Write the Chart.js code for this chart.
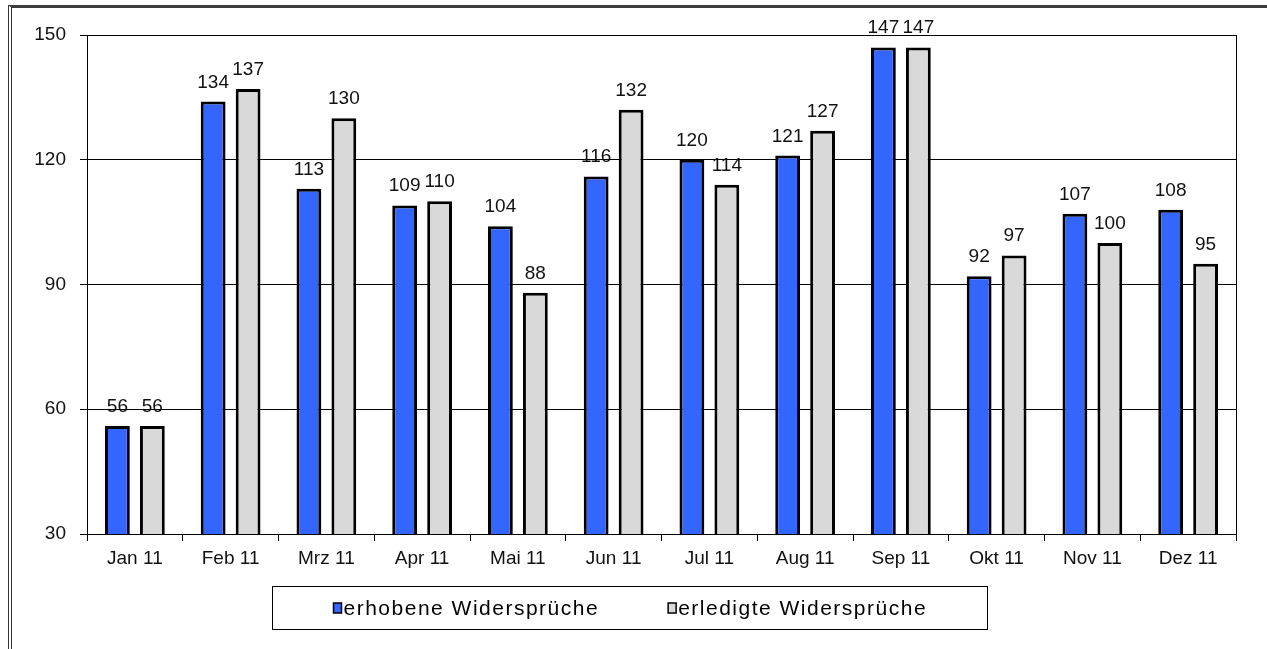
<!DOCTYPE html>
<html lang="de">
<head>
<meta charset="UTF-8">
<title>Widersprüche 2011</title>
<script src="https://cdn.jsdelivr.net/npm/chart.js"></script>
<style>
  html, body { margin: 0; padding: 0; background: #fff; }
  body { width: 1267px; height: 649px; position: relative; overflow: hidden; }
  .frame { position: absolute; left: 8px; top: 5px; right: -20px; bottom: -20px;
           border-top: 3px solid #3c3c3c; border-left: 4px double #333; }
  #chart { position: absolute; left: 0; top: 0; }
</style>
</head>
<body>
<div class="frame"></div>
<canvas id="chart" width="1267" height="649"></canvas>

<script>
const months = ['Jan 11', 'Feb 11', 'Mrz 11', 'Apr 11', 'Mai 11', 'Jun 11',
                'Jul 11', 'Aug 11', 'Sep 11', 'Okt 11', 'Nov 11', 'Dez 11'];
const erhoben  = [56, 134, 113, 109, 104, 116, 120, 121, 147, 92, 107, 108];
const erledigt = [56, 137, 130, 110, 88, 132, 114, 127, 147, 97, 100, 95];
const yTicks = [30, 60, 90, 120, 150];

const FONT = "'Liberation Sans', Arial, sans-serif";

// right edge of the plot box (top edge is the 150 grid line)
const plotFrame = {
    id: 'plotFrame',
    afterDraw(chart) {
        const { ctx, chartArea: a } = chart;
        const x = Math.round(a.right) + 0.5;
        ctx.save();
        ctx.strokeStyle = '#000';
        ctx.lineWidth = 1;
        ctx.beginPath();
        ctx.moveTo(x, Math.round(a.top));
        ctx.lineTo(x, Math.round(a.bottom));
        ctx.stroke();
        ctx.restore();
    }
};

// value printed above each bar
const valueLabels = {
    id: 'valueLabels',
    afterDatasetsDraw(chart) {
        const { ctx } = chart;
        ctx.save();
        ctx.fillStyle = '#111';
        ctx.font = `19px ${FONT}`;
        ctx.textAlign = 'center';
        ctx.textBaseline = 'alphabetic';
        chart.data.datasets.forEach((ds, di) => {
            chart.getDatasetMeta(di).data.forEach((bar, i) => {
                ctx.fillText(String(ds.data[i]), bar.x, bar.y - 14);
            });
        });
        ctx.restore();
    }
};

// legend in a framed box under the axis
const boxedLegend = {
    id: 'boxedLegend',
    afterDraw(chart) {
        const { ctx, chartArea: a } = chart;
        const w = 715, h = 43;
        const left = Math.round(chart.width / 2 - 4 - w / 2) + 0.5;
        const top = Math.round(a.bottom + 52) + 0.5;
        const cy = top + h / 2;
        ctx.save();
        ctx.strokeStyle = '#000';
        ctx.lineWidth = 1;
        ctx.strokeRect(left, top, w, h);

        ctx.font = `21px ${FONT}`;
        ctx.letterSpacing = '1.5px';
        ctx.textBaseline = 'middle';
        ctx.textAlign = 'left';
        let x = left + 61;
        chart.data.datasets.forEach(ds => {
            ctx.fillStyle = ds.backgroundColor;
            ctx.fillRect(x, cy - 5, 8, 10);
            ctx.lineWidth = 1.5;
            ctx.strokeRect(x, cy - 5, 8, 10);
            ctx.fillStyle = '#000';
            ctx.fillText(ds.label, x + 10, cy + 1);
            x += 10 + ctx.measureText(ds.label).width + 69;
        });
        ctx.restore();
    }
};

new Chart(document.getElementById('chart'), {
    type: 'bar',
    data: {
        labels: months,
        datasets: [
            { label: 'erhobene Widersprüche', data: erhoben, backgroundColor: '#3366FF' },
            { label: 'erledigte Widersprüche', data: erledigt, backgroundColor: '#D9D9D9' }
        ]
    },
    options: {
        responsive: false,
        animation: false,
        events: [],
        layout: { padding: { left: 0, top: 35, right: 31, bottom: 75 } },
        datasets: {
            bar: {
                categoryPercentage: 0.73,
                barPercentage: 0.71,
                borderColor: '#000',
                borderWidth: 3,
                borderSkipped: false
            }
        },
        plugins: {
            legend: { display: false },
            tooltip: { enabled: false }
        },
        scales: {
            x: {
                grid: { offset: true, drawOnChartArea: false, color: '#000', tickLength: 7 },
                border: { color: '#000' },
                ticks: { color: '#111', font: { family: FONT, size: 19 }, padding: 6,
                         maxRotation: 0, autoSkip: false },
                afterFit: s => { s.height = 40; }
            },
            y: {
                min: 30,
                max: 150,
                afterBuildTicks: s => { s.ticks = yTicks.map(v => ({ value: v })); },
                grid: { color: '#000', tickLength: 7 },
                border: { color: '#000' },
                ticks: { color: '#111', font: { family: FONT, size: 19 }, padding: 14 },
                afterFit: s => { s.width = 87; }
            }
        }
    },
    plugins: [plotFrame, valueLabels, boxedLegend]
});
</script>
</body>
</html>
